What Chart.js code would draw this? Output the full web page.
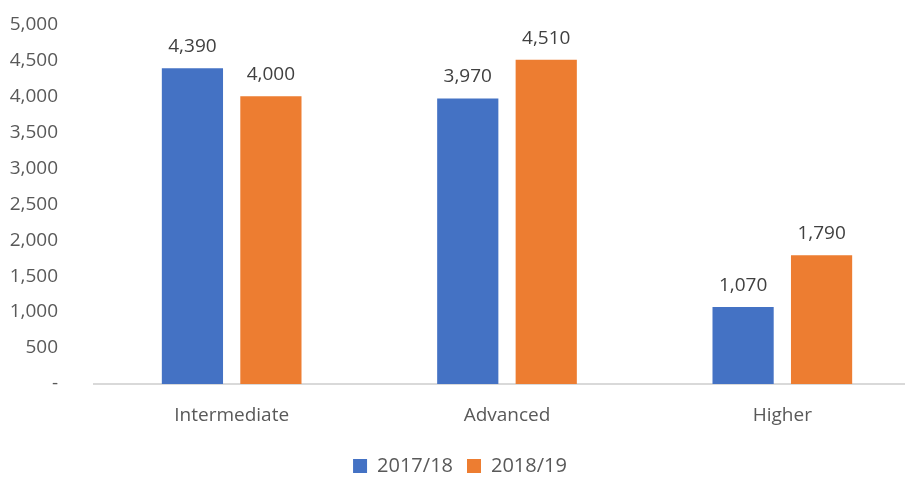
<!DOCTYPE html>
<html>
<head>
<meta charset="utf-8">
<script src="https://cdn.jsdelivr.net/npm/chart.js@4/dist/chart.umd.min.js"></script>
<style>
  html, body { margin: 0; padding: 0; background: #fff; overflow: hidden; }
  #wrap { width: 905px; height: 477px; overflow: hidden; }
  #chart { display: block; margin-top: -15px; }
</style>
</head>
<body>
<div id="wrap"><canvas id="chart" width="920" height="492"></canvas></div>
<script>
const categories = ['Intermediate', 'Advanced', 'Higher'];
const series2017 = [4390, 3970, 1070];
const series2018 = [4000, 4510, 1790];
const seriesNames = ['2017/18', '2018/19'];

const fmt = v => v === 0 ? '-' : v.toLocaleString('en-US');
const FONT = "'Open Sans', 'Liberation Sans', sans-serif";

// draws the value above each bar
const barLabels = {
  id: 'barLabels',
  afterDatasetsDraw(chart) {
    const ctx = chart.ctx;
    ctx.save();
    ctx.font = '19px ' + FONT;
    ctx.fillStyle = '#404040';
    ctx.textAlign = 'center';
    ctx.textBaseline = 'bottom';
    chart.data.datasets.forEach((ds, i) => {
      chart.getDatasetMeta(i).data.forEach((bar, j) => {
        ctx.fillText(fmt(ds.data[j]), bar.x, bar.y - 12);
      });
    });
    ctx.restore();
  }
};

new Chart(document.getElementById('chart'), {
  type: 'bar',
  data: {
    labels: categories,
    datasets: [
      { label: seriesNames[0], data: series2017, backgroundColor: '#4472C4' },
      { label: seriesNames[1], data: series2018, backgroundColor: '#ED7D31' }
    ]
  },
  options: {
    responsive: false,
    animation: false,
    layout: { padding: { top: 0, left: 0, right: 0, bottom: -9 } },
    plugins: {
      legend: {
        position: 'bottom',
        labels: {
          boxWidth: 14, boxHeight: 14, padding: 14,
          color: '#595959',
          font: { family: FONT, size: 20 }
        }
      },
      tooltip: { enabled: false }
    },
    datasets: { bar: { categoryPercentage: 0.57, barPercentage: 0.78 } },
    scales: {
      x: {
        grid: { display: false },
        border: { color: '#d9d9d9', width: 2 },
        ticks: { color: '#595959', padding: 12, font: { family: FONT, size: 19 } },
        afterFit: s => { s.height = 58; }
      },
      y: {
        min: 0, max: 5000,
        grid: { display: false },
        border: { display: false },
        ticks: {
          stepSize: 500, padding: 28, color: '#595959',
          font: { family: FONT, size: 19 },
          callback: v => fmt(v)
        },
        afterFit: s => { s.width = 94; }
      }
    }
  },
  plugins: [barLabels]
});
</script>
</body>
</html>
